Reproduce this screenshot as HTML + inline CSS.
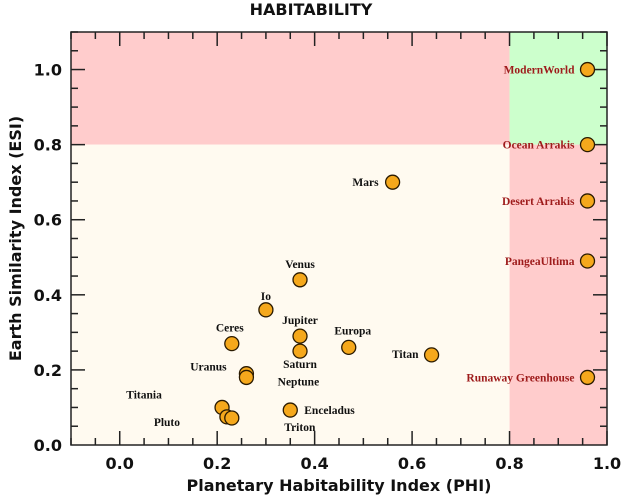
<!DOCTYPE html>
<html><head><meta charset="utf-8"><style>
html,body{margin:0;padding:0;background:#fff;}
svg{display:block;}
.tk{font-family:"DejaVu Sans","Liberation Sans",sans-serif;font-weight:bold;font-size:16px;fill:#111;}
.lb{font-family:"Liberation Serif",serif;font-weight:bold;font-size:11.5px;}
</style></head><body>
<svg id="chart" width="622" height="500" viewBox="0 0 622 500" xmlns="http://www.w3.org/2000/svg"></svg>
<script>
const names = ["Mars","Venus","Io","Jupiter","Ceres","Europa","Saturn","Titan","Uranus","Neptune","Titania","Pluto","Triton","Enceladus","ModernWorld","Ocean Arrakis","Desert Arrakis","PangeaUltima","Runaway Greenhouse"];
const phi = [0.56,0.37,0.30,0.37,0.23,0.47,0.37,0.64,0.26,0.26,0.21,0.22,0.23,0.35,0.96,0.96,0.96,0.96,0.96];
const esi = [0.70,0.44,0.36,0.29,0.27,0.26,0.25,0.24,0.19,0.18,0.10,0.075,0.072,0.093,1.0,0.80,0.65,0.49,0.18];
const xTicks = ["0.0","0.2","0.4","0.6","0.8","1.0"];
const yTicks = ["0.0","0.2","0.4","0.6","0.8","1.0"];
// label placement (styling): dx, dy in px, anchor
const lblDx = [-14,0,0,0,-2,4,0,-13,-38,52,-78,-60,68,14,-13,-13,-13,-13,-13];
const lblDy = [4,-12,-10,-12,-12,-13,17,3,-3,8,-9,9,13,4,4,4,4,4,4];
const lblAnchor = ["end","middle","middle","middle","middle","middle","middle","end","middle","middle","middle","middle","middle","start","end","end","end","end","end"];
const isRed = [0,0,0,0,0,0,0,0,0,0,0,0,0,0,1,1,1,1,1];

const L=71,R=607,T=32,B=445,xmin=-0.1,xmax=1.0,ymin=0,ymax=1.1;
const xs=v=>L+(v-xmin)/(xmax-xmin)*(R-L);
const ys=v=>B-(v-ymin)/(ymax-ymin)*(B-T);
const svg=document.getElementById('chart');
const NS="http://www.w3.org/2000/svg";
function mk(tag,attrs,parent){const e=document.createElementNS(NS,tag);for(const k in attrs)e.setAttribute(k,attrs[k]);(parent||svg).appendChild(e);return e;}

let e;
e=mk('rect',{x:L,y:T,width:xs(0.8)-L,height:ys(0.8)-T,fill:'#ffcccc'});


e=mk('rect',{x:xs(0.8),y:T,width:R-xs(0.8),height:ys(0.8)-T,fill:'#ccffcc'});


e=mk('rect',{x:xs(0.8),y:ys(0.8),width:R-xs(0.8),height:B-ys(0.8),fill:'#ffcccc'});


e=mk('rect',{x:L,y:ys(0.8),width:xs(0.8)-L,height:B-ys(0.8),fill:'#fffaf0'});



const tg=mk('g',{stroke:'#222','stroke-width':1.5});


for(let i=-2;i<=20;i++){const v=i*0.05;if(v<xmin-1e-9||v>xmax+1e-9)continue;const x=xs(v);const len=(i%4===0)?14:7;
 mk('line',{x1:x,y1:B,x2:x,y2:B-len},tg);mk('line',{x1:x,y1:T,x2:x,y2:T+len},tg);}
for(let i=1;i<=22;i++){const v=i*0.05;if(v>ymax+1e-9)continue;const y=ys(v);const len=(i%4===0)?14:7;
 mk('line',{x1:L,y1:y,x2:L+len,y2:y},tg);mk('line',{x1:R,y1:y,x2:R-len,y2:y},tg);}
e=mk('rect',{x:L,y:T,width:R-L,height:B-T,fill:'none',stroke:'#222','stroke-width':1.5});



xTicks.forEach(t=>{const el=mk('text',{x:xs(parseFloat(t)),y:B+24,'text-anchor':'middle',class:'tk'});el.textContent=t;
 
 });
yTicks.forEach(t=>{const el=mk('text',{x:L-9,y:ys(parseFloat(t))+6,'text-anchor':'end',class:'tk'});el.textContent=t;
 
 });

e=mk('text',{x:311,y:15,'text-anchor':'middle',class:'tk','font-size':'17'});e.textContent='HABITABILITY';


e=mk('text',{x:(L+R)/2,y:491,'text-anchor':'middle',class:'tk'});e.textContent='Planetary Habitability Index (PHI)';


e=mk('text',{x:0,y:0,'text-anchor':'middle',class:'tk',transform:`translate(21,${(T+B)/2}) rotate(-90)`});e.textContent='Earth Similarity Index (ESI)';



names.forEach((n,i)=>{const cx=xs(phi[i]),cy=ys(esi[i]);
 const c=mk('circle',{cx:cx,cy:cy,r:7,fill:'#f5a81c',stroke:'#2a1a00','stroke-width':1.3});
 
 
 const t=mk('text',{x:cx+lblDx[i],y:cy+lblDy[i],'text-anchor':lblAnchor[i],class:'lb',fill:isRed[i]?'#9e1b1b':'#111'});
 t.textContent=n;
 
 
});
</script>
</body></html>
